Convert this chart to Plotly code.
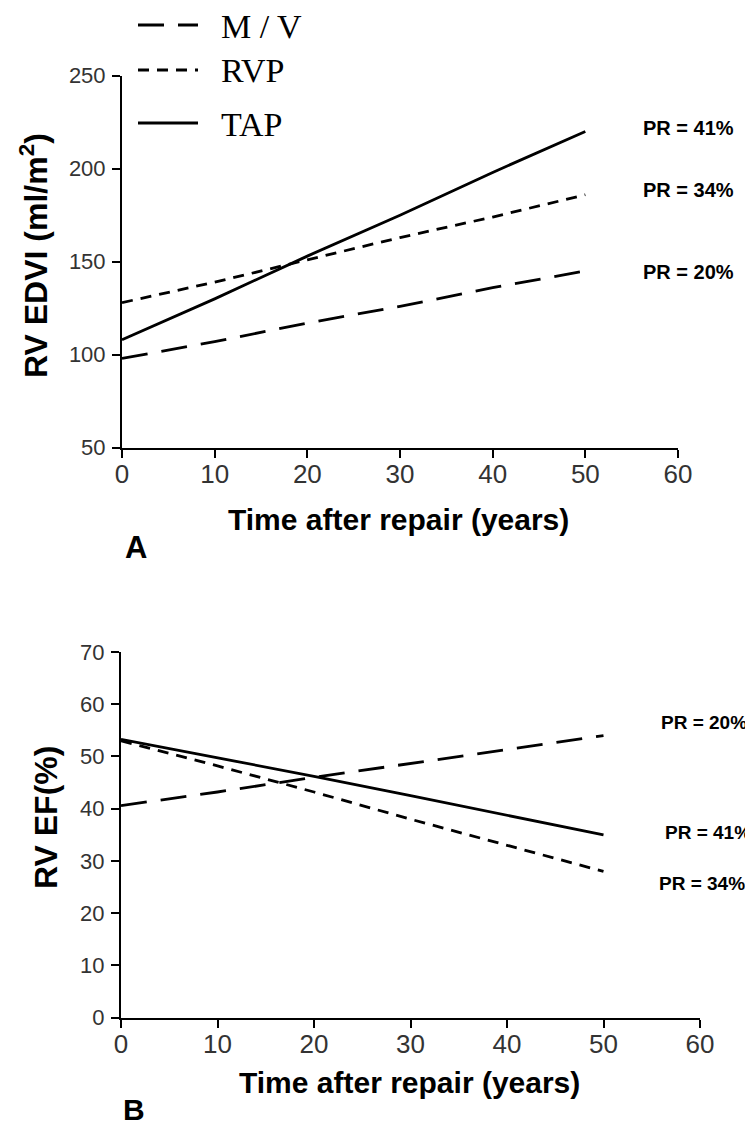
import plotly.graph_objects as go

# page body has an 8px margin, so the figure is drawn 8px in from the corner
OFF = 8
W, H = 753 - OFF, 1137 - 2 * OFF

# ---- data ----
years = [0, 10, 20, 30, 40, 50]
series_names = ["M / V", "RVP", "TAP"]
edvi_mv = [98, 107, 117, 126, 136, 145]
edvi_rvp = [128, 139, 151, 163, 174, 186]
edvi_tap = [108, 130, 153, 175, 198, 220]
ef_mv = [40.6, 43.2, 46.0, 48.7, 51.3, 54.0]
ef_rvp = [53.0, 48.2, 43.2, 38.0, 33.0, 28.0]
ef_tap = [53.3, 49.8, 46.2, 42.5, 38.8, 35.0]
pr_labels_a = ["PR = 41%", "PR = 34%", "PR = 20%"]
pr_labels_b = ["PR = 20%", "PR = 41%", "PR = 34%"]
x_ticks = [0, 10, 20, 30, 40, 50, 60]
y_ticks_a = [50, 100, 150, 200, 250]
y_ticks_b = [0, 10, 20, 30, 40, 50, 60, 70]

dashes = {"M / V": "26px,14px", "RVP": "11px,8px", "TAP": "solid"}

def px(x):
    return (x - OFF) / W

def py(y):
    return 1 - (y - OFF) / H

fig = go.Figure()
for name, vals in zip(series_names, [edvi_mv, edvi_rvp, edvi_tap]):
    fig.add_trace(go.Scatter(x=years, y=vals, mode="lines", name=name,
                             line=dict(color="black", width=2.8, dash=dashes[name]),
                             xaxis="x", yaxis="y", showlegend=False))
for name, vals in zip(series_names, [ef_mv, ef_rvp, ef_tap]):
    fig.add_trace(go.Scatter(x=years, y=vals, mode="lines", name=name,
                             line=dict(color="black", width=2.8, dash=dashes[name]),
                             xaxis="x2", yaxis="y2", showlegend=False))

axis_common = dict(showline=True, linecolor="black", linewidth=2, ticks="outside",
                   ticklen=8, tickwidth=2, tickcolor="black", showgrid=False,
                   zeroline=False, automargin=False)
xfont = dict(family="Liberation Sans", size=26, color="#333")
yfont = dict(family="Liberation Sans", size=22, color="#333")

fig.update_layout(
    width=W, height=H, margin=dict(l=0, r=0, t=0, b=0),
    paper_bgcolor="white", plot_bgcolor="white",
    xaxis=dict(domain=[px(122), px(678)], range=[0, 60], tickvals=x_ticks,
               anchor="y", tickfont=xfont, ticklabelstandoff=-6, **axis_common),
    yaxis=dict(domain=[py(447.7), py(75.7)], range=[50, 250], tickvals=y_ticks_a,
               anchor="x", tickfont=yfont, ticklabelstandoff=2, **axis_common),
    xaxis2=dict(domain=[px(121), px(700)], range=[0, 60], tickvals=x_ticks,
                anchor="y2", tickfont=xfont, ticklabelstandoff=-6, **axis_common),
    yaxis2=dict(domain=[py(1017.7), py(652)], range=[0, 70], tickvals=y_ticks_b,
                anchor="x2", tickfont=yfont, ticklabelstandoff=2, **axis_common),
)

ann = []

def add_text(text, x, y, size, xanchor="center", angle=0, family="Liberation Sans"):
    ann.append(dict(text=text, x=px(x), y=py(y), xref="paper", yref="paper",
                    xanchor=xanchor, yanchor="middle", showarrow=False,
                    textangle=angle, font=dict(family=family, size=size, color="black")))

# axis titles
add_text("<b>RV EDVI (ml/m<sup>2</sup>)</b>", 34, 256, 32, angle=-90)
add_text("<b>RV EF(%)</b>", 46, 818, 32, angle=-90)
add_text("<b>Time after repair (years)</b>", 398, 519, 30)
add_text("<b>Time after repair (years)</b>", 409, 1082, 30)
# panel labels
add_text("<b>A</b>", 136, 548, 31)
add_text("<b>B</b>", 134, 1109, 30)
# PR labels
for t, (x, y) in zip(pr_labels_a, [(641, 128), (641, 190), (641, 272)]):
    add_text("<b>" + t + "</b>", x, y, 20, xanchor="left")
for t, (x, y) in zip(pr_labels_b, [(659, 722), (663, 832), (657, 883)]):
    add_text("<b>" + t + "</b>", x, y, 19, xanchor="left")

# legend
shapes = []
for name, ly in zip(series_names, [25, 70, 123]):
    shapes.append(dict(type="line", xref="paper", yref="paper",
                       x0=px(138), x1=px(198), y0=py(ly), y1=py(ly),
                       line=dict(color="black", width=2.8, dash=dashes[name])))
    add_text(name, 219, ly + 1, 34, xanchor="left", family="Liberation Serif")

fig.update_layout(annotations=ann, shapes=shapes)
fig.write_html("out.html")
